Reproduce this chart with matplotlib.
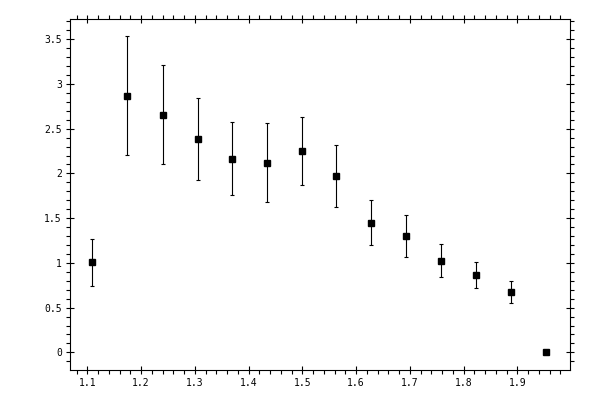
import numpy as np
import matplotlib
matplotlib.use("Agg")
import matplotlib.pyplot as plt
from matplotlib.ticker import MultipleLocator, FormatStrFormatter

# data
x = [1.109, 1.174, 1.240, 1.305, 1.370, 1.435, 1.500, 1.563, 1.627, 1.692, 1.758, 1.824, 1.889, 1.954]
y = [1.014, 2.861, 2.653, 2.386, 2.163, 2.118, 2.252, 1.973, 1.449, 1.304, 1.026, 0.870, 0.680, 0.0]
y_hi = [1.266, 3.537, 3.211, 2.843, 2.575, 2.564, 2.627, 2.314, 1.706, 1.538, 1.207, 1.014, 0.803, 0.0]
y_lo = [0.747, 2.207, 2.107, 1.929, 1.754, 1.683, 1.873, 1.628, 1.196, 1.070, 0.847, 0.725, 0.557, 0.0]

x = np.array(x)
y = np.array(y)
err = [y - np.array(y_lo), np.array(y_hi) - y]

fig = plt.figure(figsize=(6, 4), dpi=100)
ax = fig.add_axes([0.116, 0.075, 0.834, 0.8775])

ax.errorbar(x, y, yerr=err, fmt='s', color='black', ms=5, capsize=1.6,
            elinewidth=0.8, capthick=0.8)

ax.set_xlim(1.067, 1.998)
ax.set_ylim(-0.197, 3.726)

ax.xaxis.set_major_locator(MultipleLocator(0.1))
ax.xaxis.set_minor_locator(MultipleLocator(0.02))
ax.yaxis.set_major_locator(MultipleLocator(0.5))
ax.yaxis.set_minor_locator(MultipleLocator(0.1))
ax.xaxis.set_major_formatter(FormatStrFormatter('%g'))
ax.yaxis.set_major_formatter(FormatStrFormatter('%g'))

ax.tick_params(which='both', top=True, right=True, width=0.8, labelsize=7)
ax.tick_params(which='major', direction='inout', length=6)
ax.tick_params(which='minor', direction='out', length=3)
ax.tick_params(axis='y', pad=2.5)
ax.tick_params(axis='x', pad=3)
for lab in ax.get_xticklabels() + ax.get_yticklabels():
    lab.set_family('DejaVu Sans Mono')
for s in ax.spines.values():
    s.set_linewidth(0.8)

fig.savefig('out.png', dpi=100)
